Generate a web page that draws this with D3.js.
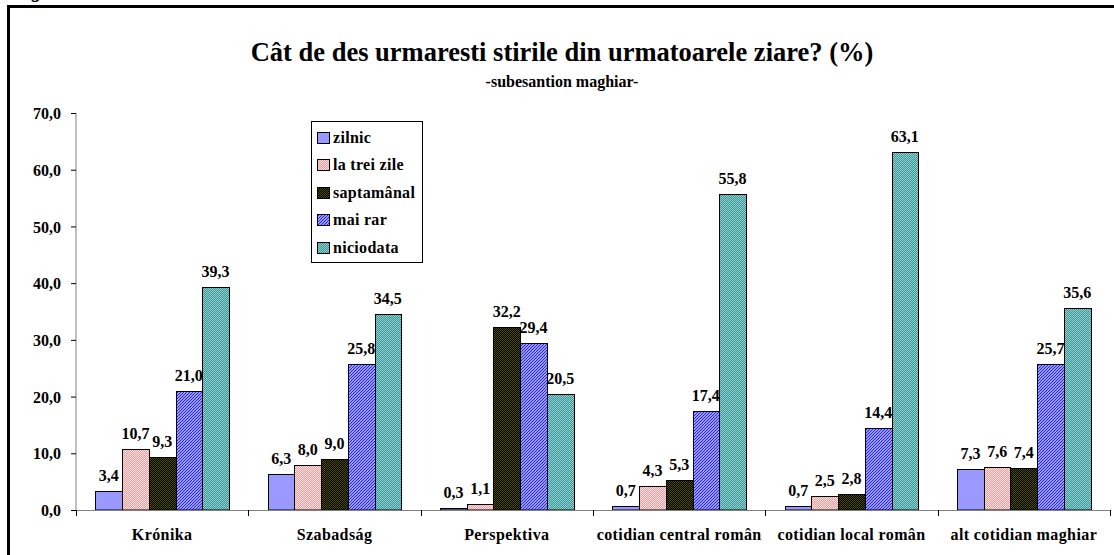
<!DOCTYPE html>
<html><head><meta charset="utf-8">
<script src="https://cdn.jsdelivr.net/npm/d3@7"></script>
<style>body{margin:0;background:#fff}svg{display:block}</style>
</head><body><svg id="c" width="1114" height="555"></svg>
<script>
const categories = ["Krónika","Szabadság","Perspektiva","cotidian central român","cotidian local român","alt cotidian maghiar"];
const seriesNames = ["zilnic","la trei zile","saptamânal","mai rar","niciodata"];
const zilnic     = [3.4, 6.3, 0.3, 0.7, 0.7, 7.3];
const laTreiZile = [10.7, 8.0, 1.1, 4.3, 2.5, 7.6];
const saptamanal = [9.3, 9.0, 32.2, 5.3, 2.8, 7.4];
const maiRar     = [21.0, 25.8, 29.4, 17.4, 14.4, 25.7];
const niciodata  = [39.3, 34.5, 20.5, 55.8, 63.1, 35.6];
const yTicks = [0,10,20,30,40,50,60,70];
const title = "Cât de des urmaresti stirile din urmatoarele ziare? (%)";
const subtitle = "-subesantion maghiar-";

const seriesValues = [zilnic, laTreiZile, saptamanal, maiRar, niciodata];
const FONT = "'Liberation Serif', Tinos, 'Times New Roman', serif";
const svg = d3.select("#c");
const defs = svg.append("defs");
function txt(sel){ return sel.attr("font-family",FONT).attr("font-weight","bold").attr("fill","#000"); }
function checker(id, base, dot){
  const p = defs.append("pattern").attr("id",id).attr("width",2).attr("height",2).attr("patternUnits","userSpaceOnUse");
  p.append("rect").attr("width",2).attr("height",2).attr("fill",base).attr("shape-rendering","crispEdges");
  p.append("rect").attr("width",1).attr("height",1).attr("fill",dot).attr("shape-rendering","crispEdges");
  p.append("rect").attr("x",1).attr("y",1).attr("width",1).attr("height",1).attr("fill",dot).attr("shape-rendering","crispEdges");
}
checker("pPink","#FF9999","#FFE0E0");
checker("pBlack","#000000","#4A4A00");
checker("pTeal","#339999","#99CCCC");
{
  const p = defs.append("pattern").attr("id","pStripe").attr("width",3).attr("height",3).attr("patternUnits","userSpaceOnUse");
  p.append("rect").attr("width",3).attr("height",3).attr("fill","#FFFFFF");
  p.append("path").attr("d","M-1,1 L1,-1 M0,3 L3,0 M2,4 L4,2").attr("stroke","#2222FF").attr("stroke-width",1.3);
}
const fills = ["#9999FF","url(#pPink)","url(#pBlack)","url(#pStripe)","url(#pTeal)"];

// frame
svg.append("path").attr("d","M8.5,560 L8.5,6.5 L1120,6.5").attr("fill","none").attr("stroke","#000").attr("stroke-width",3);
txt(svg.append("text")).attr("x",32).attr("y",-3).attr("font-size",20).attr("font-style","italic").text("g");

const x0 = d3.scaleBand().domain(categories).range([76,1110]).paddingInner(0).paddingOuter(0);
const x1 = d3.scaleBand().domain(seriesNames).range([0,x0.bandwidth()]).paddingOuter(0.73).paddingInner(0);
const y = d3.scaleLinear().domain([0,70]).range([510,113]);

txt(svg.append("text")).attr("x",562).attr("y",61).attr("text-anchor","middle").attr("font-size",26.5).text(title);
txt(svg.append("text")).attr("x",562).attr("y",87).attr("text-anchor","middle").attr("font-size",16).text(subtitle);

// y axis
const ya = svg.append("g").attr("transform","translate(76,0)")
  .call(d3.axisLeft(y).tickValues(yTicks).tickSize(5).tickPadding(10).tickFormat(d=>d3.format(".1f")(d).replace(".",",")));
ya.attr("font-family",FONT).attr("font-size",16).attr("font-weight","bold");
ya.select(".domain").attr("stroke","#808080").attr("d","M0,113V510");
ya.selectAll(".tick line").attr("stroke","#000");
txt(ya.selectAll("text")).attr("font-size",16).attr("dy","0.35em");

// bars
const groups = svg.append("g").selectAll("g").data(categories).join("g");
groups.each(function(cat,ci){
  const g = d3.select(this);
  seriesNames.forEach((s,si)=>{
    const v = seriesValues[si][ci];
    const bx = Math.round(x0(cat)+x1(s)) + 0.5;
    const bx2 = Math.round(x0(cat)+x1(s)+x1.bandwidth()) + 0.5;
    const by = Math.round(y(v)) + 0.5;
    g.append("rect").attr("x",bx).attr("y",by).attr("width",bx2-bx).attr("height",Math.max(0,y(0)-by))
      .attr("fill",fills[si]).attr("stroke","#000").attr("stroke-width",1);
    txt(g.append("text")).attr("x",x0(cat)+x1(s)+x1.bandwidth()/2).attr("y",y(v)-10).attr("text-anchor","middle").attr("font-size",16)
      .text(d3.format(".1f")(v).replace(".",","));
  });
});

// x axis
svg.append("line").attr("x1",76).attr("x2",1110).attr("y1",510.5).attr("y2",510.5).attr("stroke","#808080");
const seps = categories.map(c=>x0(c)).concat([x0.range()[1]]);
svg.append("g").selectAll("line").data(seps).join("line")
  .attr("x1",d=>Math.round(d)+0.5).attr("x2",d=>Math.round(d)+0.5).attr("y1",510).attr("y2",516).attr("stroke","#000");
txt(svg.append("g").selectAll("text").data(categories).join("text"))
  .attr("x",d=>x0(d)+x0.bandwidth()/2).attr("y",540).attr("text-anchor","middle").attr("font-size",16)
  .attr("letter-spacing",0.4).text(d=>d);

// legend
const lg = svg.append("g");
lg.append("rect").attr("x",311.5).attr("y",121.5).attr("width",111).attr("height",141).attr("fill","#fff").attr("stroke","#000");
seriesNames.forEach((s,i)=>{
  const cy = 137 + i*27.6;
  lg.append("rect").attr("x",317.5).attr("y",Math.round(cy-5.5)+0.5).attr("width",12).attr("height",11).attr("fill",fills[i]).attr("stroke","#000");
  txt(lg.append("text")).attr("x",333).attr("y",cy+5.5).attr("font-size",16).attr("letter-spacing",0.3).text(s);
});
</script></body></html>
